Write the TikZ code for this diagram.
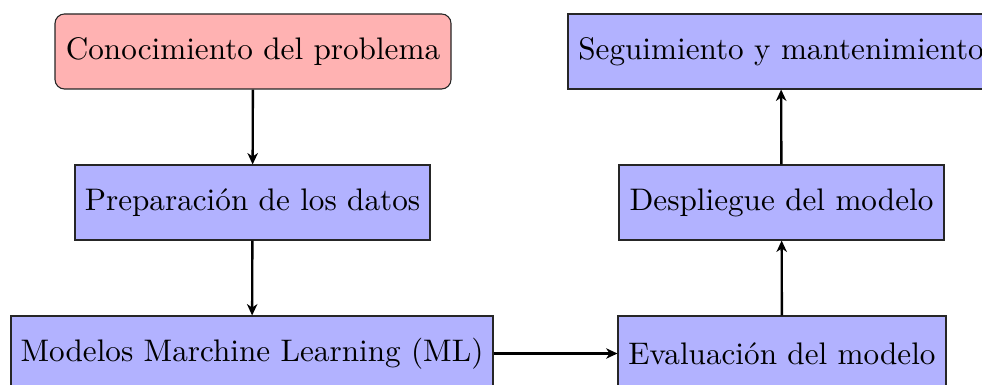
\documentclass[tikz,border=0pt]{standalone}
\usetikzlibrary{arrows.meta}
\newlength{\pxu}
\setlength{\pxu}{0.3175pt}
\tikzset{
  x=\pxu, y=-\pxu,
  box/.style={draw=black!85, fill=blue!30, line width=0.35pt, minimum height=75\pxu, inner sep=0pt, font=\fontsize{9.9pt}{12pt}\selectfont},
  startbox/.style={box, fill=red!30, rounded corners=3pt},
  conn/.style={-{Stealth[length=3.6pt,width=3.3pt,inset=1.1pt]}, line width=0.75pt}
}
\begin{document}
\begin{tikzpicture}
\useasboundingbox (0,0) rectangle (982,385);
\clip (0,0) rectangle (982,385);
\node[startbox, minimum width=396\pxu] (cono) at (253,51.5) {Conocimiento del problema};
\node[box, minimum width=355\pxu] (prep) at (252.5,202.5) {Preparación de los datos};
\node[box, minimum width=482\pxu] (mod) at (252,353.5) {Modelos Marchine Learning (ML)};
\node[box, minimum width=328\pxu] (eval) at (782,353.5) {Evaluación del modelo};
\node[box, minimum width=325\pxu] (desp) at (781.5,202.5) {Despliegue del modelo};
\node[box, minimum width=426\pxu] (seg) at (781,51.5) {Seguimiento y mantenimiento};
\draw[conn] (cono) -- (prep);
\draw[conn] (prep) -- (mod);
\draw[conn] (mod) -- (eval);
\draw[conn] (eval) -- (desp);
\draw[conn] (desp) -- (seg);
\end{tikzpicture}
\end{document}
